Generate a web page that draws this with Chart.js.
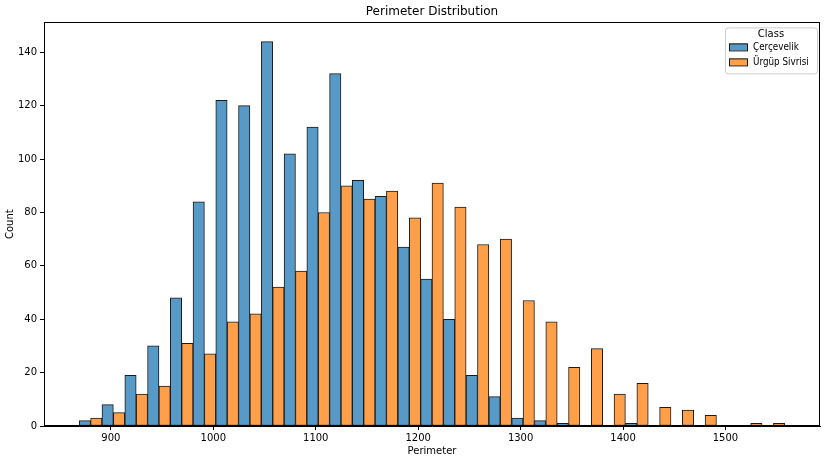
<!DOCTYPE html>
<html>
<head>
<meta charset="utf-8">
<script src="https://cdn.jsdelivr.net/npm/chart.js@4"></script>
<style>
  html, body { margin: 0; padding: 0; background: #fff; }
  #kutu { width: 828px; height: 461px; }
</style>
</head>
<body>
<div id="kutu"><canvas id="grafik"></canvas></div>
<script>
// histogram kutulari (sol kenar), seaborn otomatik bins
const binStarts = [869.1, 891.3, 913.6, 935.8, 958.0, 980.2, 1002.4, 1024.6, 1046.9, 1069.1,
  1091.3, 1113.5, 1135.7, 1157.9, 1180.2, 1202.4, 1224.6, 1246.8, 1269.0, 1291.3,
  1313.5, 1335.7, 1357.9, 1380.1, 1402.4, 1424.6, 1446.8, 1469.0, 1491.3, 1513.5, 1535.7];
const binWidth = 22.22;

const classLabels = ['Çerçevelik', 'Ürgüp Sivrisi'];
const cercevelik = [2, 8, 19, 30, 48, 84, 122, 120, 144, 102, 112, 132, 92, 86, 67, 55,
  40, 19, 11, 3, 2, 1, 0, 0, 1, 0, 0, 0, 0, 0, 0];
const urgup = [3, 5, 12, 15, 31, 27, 39, 42, 52, 58, 80, 90, 85, 88, 78, 91,
  82, 68, 70, 47, 39, 22, 29, 12, 16, 7, 6, 4, 0, 1, 1];

const xTicks = [900, 1000, 1100, 1200, 1300, 1400, 1500];
const yTicks = [0, 20, 40, 60, 80, 100, 120, 140];

const renkler = ['rgb(87,153,199)', 'rgb(255,159,74)'];
const fontAdi = 'DejaVu Sans';

const toPoints = arr => arr.map((v, i) => ({ x: binStarts[i] + binWidth / 2, y: v }));

// cerceve: ust ve sag cizgiler
const cerceve = {
  id: 'cerceve',
  afterDraw(chart) {
    const { ctx, chartArea: a } = chart;
    ctx.save();
    ctx.strokeStyle = '#000';
    ctx.lineWidth = 1;
    ctx.strokeRect(Math.round(a.left) + 0.5, Math.round(a.top) + 0.5,
      Math.round(a.right - a.left) - 1, Math.round(a.bottom - a.top) - 1);
    ctx.restore();
  }
};

// matplotlib tarzi lejant, grafik icinde sag ust
const lejant = {
  id: 'lejant',
  afterDraw(chart) {
    const { ctx, chartArea } = chart;
    const w = 92, h = 46;
    const x = chartArea.right - w - 3, y = chartArea.top + 5;
    ctx.save();
    ctx.beginPath();
    ctx.roundRect(x + 0.5, y + 0.5, w, h, 3);
    ctx.fillStyle = 'rgba(255,255,255,0.8)';
    ctx.fill();
    ctx.strokeStyle = '#cccccc';
    ctx.lineWidth = 1;
    ctx.stroke();

    ctx.fillStyle = '#000';
    ctx.font = '10px "' + fontAdi + '"';
    ctx.textBaseline = 'middle';
    ctx.textAlign = 'center';
    ctx.fillText('Class', x + w / 2, y + 7);
    ctx.textAlign = 'left';
    chart.data.datasets.forEach((ds, i) => {
      const ry = y + 19 + i * 15;
      ctx.fillStyle = ds.backgroundColor;
      ctx.fillRect(x + 4, ry - 3, 18, 7);
      ctx.strokeStyle = '#1a1a1a';
      ctx.strokeRect(x + 4.5, ry - 2.5, 18, 7);
      ctx.fillStyle = '#000';
      // yazi biraz dar, kutuya sigsin
      ctx.save();
      ctx.translate(x + 28, ry + 1);
      ctx.scale(0.88, 1);
      ctx.fillText(ds.label, 0, 0);
      ctx.restore();
    });
    ctx.restore();
  }
};

const ctx1 = document.getElementById('grafik').getContext('2d');
new Chart(ctx1, {
  type: 'bar',
  data: {
    datasets: [{
      label: classLabels[0],
      data: toPoints(cercevelik),
      backgroundColor: renkler[0],
      borderColor: '#1a1a1a',
      borderWidth: 1,
      borderSkipped: false
    }, {
      label: classLabels[1],
      data: toPoints(urgup),
      backgroundColor: renkler[1],
      borderColor: '#1a1a1a',
      borderWidth: 1,
      borderSkipped: false
    }]
  },
  options: {
    responsive: true,
    maintainAspectRatio: false,
    animation: false,
    barPercentage: 1,
    categoryPercentage: 1,
    layout: { padding: { right: 8 } },
    plugins: {
      legend: { display: false },
      tooltip: { enabled: false },
      title: {
        display: true,
        text: 'Perimeter Distribution',
        fullSize: false,
        color: '#000',
        font: { family: fontAdi, size: 12, weight: 'normal' },
        padding: { top: 5, bottom: 3 }
      }
    },
    scales: {
      x: {
        type: 'linear',
        min: 834.7,
        max: 1592.3,
        offset: false,
        afterBuildTicks: s => { s.ticks = xTicks.map(v => ({ value: v })); },
        afterFit: s => { s.height = 35; },
        grid: { display: true, drawOnChartArea: false, tickLength: 4, color: '#000', offset: false },
        border: { display: true, color: '#000' },
        ticks: { color: '#000', font: { family: fontAdi, size: 10 }, padding: 2, maxRotation: 0, callback: v => String(v) },
        title: { display: true, text: 'Perimeter', color: '#000', font: { family: fontAdi, size: 10 }, padding: { top: 2, bottom: 4 } }
      },
      y: {
        min: 0,
        max: 151.2,
        afterBuildTicks: s => { s.ticks = yTicks.map(v => ({ value: v })); },
        afterFit: s => { s.width = 44; },
        grid: { display: true, drawOnChartArea: false, tickLength: 4, color: '#000' },
        border: { display: true, color: '#000' },
        ticks: { color: '#000', font: { family: fontAdi, size: 10 }, padding: 3, callback: v => String(v) },
        title: { display: true, text: 'Count', color: '#000', font: { family: fontAdi, size: 10 }, padding: { top: 4, bottom: 2 } }
      }
    }
  },
  plugins: [cerceve, lejant]
});
</script>
</body>
</html>
